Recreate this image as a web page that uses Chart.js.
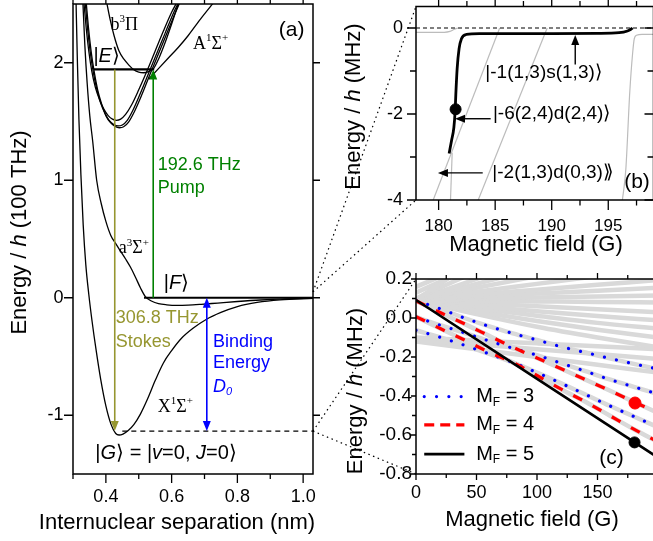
<!DOCTYPE html>
<html><head><meta charset="utf-8"><title>Potential curves and Zeeman map</title>
<script src="https://cdn.jsdelivr.net/npm/chart.js@4/dist/chart.umd.min.js"></script>
<style>
html,body{margin:0;padding:0;background:#fff;overflow:hidden;}
body{position:relative;width:653px;height:541px;}
canvas{position:absolute;display:block;}
</style></head><body>
<canvas id="ca" width="320" height="541" style="left:0px;top:0px;width:320px;height:541px"></canvas>
<canvas id="cb" width="340" height="260" style="left:320px;top:0px;width:340px;height:260px"></canvas>
<canvas id="cc" width="345" height="281" style="left:320px;top:260px;width:345px;height:281px"></canvas>
<canvas id="ov" width="653" height="541" style="left:0px;top:0px;width:653px;height:541px;pointer-events:none"></canvas>
<script>
const FONT = '"Liberation Sans", Arial, Helvetica, sans-serif';
const SERIF = '"Liberation Serif", "Times New Roman", serif';
const GREEN = '#008000', OLIVE = '#969630', BLUE = '#0000ff', RED = '#ff0000', GRAY = '#d9d9d9', LGRAY = '#bcbcbc';

// ================= Panel (a): potential curves =================
const aXRange = [0.3, 1.03];
const aYRange = [-1.5, 2.5];
const aXTicks = [0.4, 0.6, 0.8, 1.0];
const aXMinor = [0.3, 0.5, 0.7, 0.9];
const aYTicks = [-1, 0, 1, 2];

const xSigR = [0.309,0.313,0.318,0.324,0.331,0.339,0.348,0.358,0.37,0.384,0.4,0.416,0.43,0.44,0.452,0.468,0.485,0.505,0.527,0.55,0.575,0.6,0.63,0.665,0.705,0.75,0.8,0.86,0.93,1.03];
const xSigE = [2.55,2.05,1.52,1.05,0.62,0.28,0.03,-0.2,-0.44,-0.69,-0.92,-1.08,-1.155,-1.168,-1.16,-1.13,-1.08,-0.99,-0.86,-0.705,-0.555,-0.45,-0.345,-0.26,-0.185,-0.125,-0.075,-0.04,-0.018,-0.005];

const a3SigR = [0.33,0.336,0.343,0.351,0.36,0.372,0.386,0.4,0.415,0.43,0.445,0.46,0.475,0.49,0.505,0.52,0.54,0.56,0.585,0.615,0.65,0.69,0.74,0.8,0.87,0.95,1.03];
const a3SigE = [2.52,2.15,1.83,1.55,1.33,1.0,0.8,0.65,0.53,0.46,0.395,0.33,0.26,0.175,0.085,0.01,-0.03,-0.05,-0.06,-0.065,-0.063,-0.056,-0.045,-0.032,-0.019,-0.009,-0.003];

const exc1R = [0.333,0.34,0.348,0.357,0.368,0.38,0.393,0.407,0.42,0.432,0.445,0.46,0.478,0.5,0.525,0.55,0.575,0.6,0.617];
const exc1E = [2.52,2.3,2.1,1.93,1.79,1.69,1.61,1.55,1.52,1.51,1.52,1.56,1.64,1.77,1.93,2.1,2.27,2.43,2.52];
const exc2R = [0.337,0.344,0.352,0.361,0.372,0.384,0.397,0.41,0.424,0.437,0.45,0.465,0.483,0.505,0.53,0.555,0.58,0.605,0.622];
const exc2E = [2.52,2.3,2.1,1.93,1.78,1.66,1.57,1.51,1.475,1.462,1.47,1.51,1.6,1.74,1.91,2.08,2.25,2.42,2.52];
const exc3R = [0.34,0.347,0.355,0.364,0.375,0.387,0.4,0.414,0.428,0.441,0.454,0.469,0.487,0.509,0.534,0.559,0.584,0.609,0.626];
const exc3E = [2.52,2.3,2.1,1.93,1.77,1.65,1.55,1.49,1.458,1.447,1.455,1.495,1.585,1.725,1.9,2.07,2.24,2.41,2.52];

const b3PiR = [0.402,0.412,0.425,0.44,0.455,0.47,0.485,0.5,0.515,0.53,0.545,0.56,0.58,0.6,0.62];
const b3PiE = [2.52,2.38,2.23,2.1,2.03,1.98,1.94,1.92,1.915,1.925,1.95,2.03,2.17,2.33,2.5];

const A1SigR = [0.53,0.56,0.59,0.62,0.65,0.69,0.73];
const A1SigE = [1.86,1.95,2.04,2.13,2.23,2.38,2.52];

const levelE = 1.943, levelER = [0.363, 0.547];
const levelF = 0, levelFR = [0.516, 1.03];
const levelG = -1.135, levelGR = [0.45, 1.03];
const pumpX = 0.544, stokesX = 0.427, bindX = 0.707;

// ================= Panel (b) =================
const bXRange = [178, 199];
const bYRange = [-4, 0.5];
const bXTicks = [180, 185, 190, 195];
const bXMinor = [182.5, 187.5, 192.5, 197.5];
const bYTicks = [0, -2, -4];
const bYMinor = [-1, -3];
const bStateB = [180.93,181.14,181.35,181.46,181.52,181.64,181.81,182.02,182.46,183.6,186,190,194,195.96,196.7,197.0,197.15];
const bStateE = [-2.92,-2.62,-2.31,-1.93,-1.55,-0.94,-0.48,-0.25,-0.15,-0.13,-0.13,-0.13,-0.125,-0.11,-0.07,-0.03,0.0];
const bGrayAB = [178, 180.5, 181.0, 181.4, 181.7], bGrayAE = [-0.1, -0.1, -0.08, -0.03, 0];
const bGrayBB = [179.52, 185.4], bGrayBE = [-4, 0];
const bGrayCB = [183.5, 189.6], bGrayCE = [-4, 0];
const bGrayDB = [181.05, 181.2], bGrayDE = [-4, -2.9];
const bGrayEB = [196.25,196.55,196.9,197.15,197.3,197.5,198,199], bGrayEE = [-4,-3.3,-1.5,-0.6,-0.25,-0.17,-0.15,-0.15];
const bThreshold = 0;
const bDot = {x: 181.5, y: -1.89};

// ================= Panel (c) =================
const cXRange = [0, 200];
const cYRange = [-0.8, 0.2];
const cXTicks = [0, 50, 100, 150];
const cXMinor = [25, 75, 125, 175];
const cYTicks = [0.2, 0, -0.2, -0.4, -0.6, -0.8];
const cYMinor = [0.1, -0.1, -0.3, -0.5, -0.7];
const cField = [0, 20, 40, 60, 80, 100, 120, 140, 160, 180, 200];
const mf3a = [0.09, 0.047, 0.0, -0.042, -0.079, -0.113, -0.147, -0.177, -0.207, -0.235, -0.262];
const mf3b = [0.005, -0.037, -0.076, -0.117, -0.155, -0.191, -0.232, -0.273, -0.315, -0.353, -0.39];
const mf3c = [-0.063, -0.099, -0.14, -0.183, -0.228, -0.28, -0.335, -0.392, -0.45, -0.505, -0.56];
const mf4a = [0.088, 0.028, -0.03, -0.09, -0.15, -0.205, -0.26, -0.316, -0.372, -0.43, -0.487];
const mf4b = [0.007, -0.054, -0.113, -0.174, -0.228, -0.295, -0.365, -0.43, -0.5, -0.57, -0.635];
const mf5Field = [0, 95, 200];
const mf5 = [0.092, -0.292, -0.716];
const grayField = [0, 50, 100, 150, 200];
const grayLines = [
  [0.092, 0.30, 0.50, 0.70, 0.90],
  [0.10, 0.24, 0.38, 0.52, 0.66],
  [0.13, 0.27, 0.41, 0.55, 0.69],
  [0.16, 0.29, 0.42, 0.55, 0.68],
  [0.092, 0.20, 0.31, 0.42, 0.53],
  [0.092, 0.175, 0.255, 0.335, 0.415],
  [0.092, 0.155, 0.215, 0.27, 0.33],
  [0.092, 0.135, 0.175, 0.215, 0.25],
  [0.092, 0.12, 0.145, 0.17, 0.195],
  [0.092, 0.11, 0.125, 0.14, 0.155],
  [0.092, 0.10, 0.105, 0.11, 0.115],
  [0.092, 0.088, 0.085, 0.082, 0.08],
  [0.092, 0.075, 0.06, 0.045, 0.03],
  [0.092, 0.062, 0.035, 0.01, -0.012],
  [0.092, 0.05, 0.012, -0.025, -0.055],
  [0.092, 0.035, -0.015, -0.06, -0.1],
  [0.092, 0.02, -0.045, -0.1, -0.15],
  [-0.1, -0.115, -0.13, -0.145, -0.16],
  [-0.11, -0.135, -0.16, -0.185, -0.21],
  [-0.12, -0.16, -0.2, -0.24, -0.28]
];
const dotMF5 = {x: 180.6, y: -0.638};
const dotMF4 = {x: 181, y: -0.436};

// ================= helpers =================
Chart.defaults.font.family = FONT;
Chart.defaults.color = '#000';

function pts(xs, ys) { return xs.map((x, i) => ({x: x, y: ys[i]})); }
function hpts(xs, y) { return xs.map(x => ({x: x, y: y})); }
function lineDS(data, color, width, extra) {
  return Object.assign({data: data, borderColor: color, backgroundColor: color, borderWidth: width,
    pointRadius: 0, pointHoverRadius: 0, fill: false, tension: 0, showLine: true, order: 5}, extra || {});
}
function linScale(o) {
  return {
    type: 'linear', min: o.min, max: o.max,
    afterBuildTicks: s => { s.ticks = o.ticks.map(v => ({value: v})); },
    afterFit: s => {
      if (o.width != null) s.width = o.width;
      if (o.height != null) s.height = o.height;
      s.paddingTop = 0; s.paddingBottom = 0; s.paddingLeft = 0; s.paddingRight = 0;
    },
    ticks: {callback: v => o.fmt(v), font: {size: o.size, family: FONT}, color: '#000', padding: o.pad,
      maxRotation: 0, minRotation: 0, autoSkip: false},
    grid: {display: false, drawTicks: false},
    border: {display: false},
    title: {display: false}
  };
}
function rich(ctx, x, y, parts, o) {
  const size = o.size || 18, fam = o.family || FONT, col = o.color || '#000';
  const items = parts.map(p => {
    const st = p[1] || '';
    const small = st.indexOf('^') >= 0 || st.indexOf('_') >= 0;
    const fs = small ? Math.round(size * 0.62) : size;
    const f = (st.indexOf('i') >= 0 ? 'italic ' : '') + fs + 'px ' + fam;
    ctx.font = f;
    const dy = st.indexOf('^') >= 0 ? -size * 0.34 : (st.indexOf('_') >= 0 ? size * 0.3 : 0);
    return {t: p[0], f: f, w: ctx.measureText(p[0]).width, dy: dy};
  });
  const W = items.reduce((s, it) => s + it.w, 0);
  let cx = o.align === 'center' ? x - W / 2 : (o.align === 'right' ? x - W : x);
  ctx.save();
  ctx.fillStyle = col; ctx.textAlign = 'left'; ctx.textBaseline = 'middle';
  for (const it of items) { ctx.font = it.f; ctx.fillText(it.t, cx, y + it.dy); cx += it.w; }
  ctx.restore();
  return W;
}
function richRot(ctx, x, y, parts, o) {
  ctx.save(); ctx.translate(x, y); ctx.rotate(-Math.PI / 2);
  rich(ctx, 0, 0, parts, Object.assign({align: 'center'}, o));
  ctx.restore();
}
function arrowPx(ctx, x1, y1, x2, y2, color, lw, startHead, endHead, hl, hw) {
  const ang = Math.atan2(y2 - y1, x2 - x1);
  let sx1 = x1, sy1 = y1, sx2 = x2, sy2 = y2;
  if (startHead) { sx1 += Math.cos(ang) * hl * 0.8; sy1 += Math.sin(ang) * hl * 0.8; }
  if (endHead) { sx2 -= Math.cos(ang) * hl * 0.8; sy2 -= Math.sin(ang) * hl * 0.8; }
  ctx.save(); ctx.strokeStyle = color; ctx.fillStyle = color; ctx.lineWidth = lw; ctx.setLineDash([]);
  ctx.beginPath(); ctx.moveTo(sx1, sy1); ctx.lineTo(sx2, sy2); ctx.stroke();
  const head = (x, y, a) => {
    ctx.beginPath(); ctx.moveTo(x, y);
    ctx.lineTo(x - hl * Math.cos(a) + hw * Math.sin(a), y - hl * Math.sin(a) - hw * Math.cos(a));
    ctx.lineTo(x - hl * Math.cos(a) - hw * Math.sin(a), y - hl * Math.sin(a) + hw * Math.cos(a));
    ctx.closePath(); ctx.fill();
  };
  if (endHead) head(x2, y2, ang);
  if (startHead) head(x1, y1, ang + Math.PI);
  ctx.restore();
}
function framePlugin(id, cfg, extra) {
  return {
    id: id,
    afterDraw(chart) {
      const ctx = chart.ctx, a = chart.chartArea, sx = chart.scales.x, sy = chart.scales.y;
      ctx.save();
      ctx.strokeStyle = '#000'; ctx.lineWidth = 1.5; ctx.setLineDash([]);
      ctx.strokeRect(a.left, a.top, a.right - a.left, a.bottom - a.top);
      ctx.lineWidth = 1.3;
      ctx.beginPath();
      [[cfg.xMajor, cfg.xMaj], [cfg.xMinor, cfg.xMin]].forEach(([vals, len]) => {
        vals.forEach(v => {
          const p = sx.getPixelForValue(v);
          ctx.moveTo(p, a.bottom); ctx.lineTo(p, a.bottom + len);
          ctx.moveTo(p, a.top); ctx.lineTo(p, a.top - len);
        });
      });
      [[cfg.yMajor, cfg.yMaj], [cfg.yMinor, cfg.yMin]].forEach(([vals, len]) => {
        vals.forEach(v => {
          const p = sy.getPixelForValue(v);
          ctx.moveTo(a.left, p); ctx.lineTo(a.left - len, p);
          const d = cfg.rightIn ? -len : len;
          ctx.moveTo(a.right, p); ctx.lineTo(a.right + d, p);
        });
      });
      ctx.stroke();
      ctx.restore();
      if (extra) extra(chart, ctx, sx, sy);
    }
  };
}
function baseOptions(padding, xs, ys) {
  return {
    responsive: false, animation: false, devicePixelRatio: 1, events: [],
    layout: {padding: padding},
    plugins: {legend: {display: false}, tooltip: {enabled: false}},
    scales: {x: xs, y: ys}
  };
}

// ================= Chart (a) =================
const chartA = new Chart(document.getElementById('ca'), {
  type: 'line',
  data: {datasets: [
    lineDS(pts(xSigR, xSigE), '#000', 1.3, {cubicInterpolationMode: 'monotone'}),
    lineDS(pts(a3SigR, a3SigE), '#000', 1.3, {cubicInterpolationMode: 'monotone'}),
    lineDS(pts(exc1R, exc1E), '#000', 1.3, {cubicInterpolationMode: 'monotone'}),
    lineDS(pts(exc2R, exc2E), '#000', 1.3, {cubicInterpolationMode: 'monotone'}),
    lineDS(pts(exc3R, exc3E), '#000', 1.3, {cubicInterpolationMode: 'monotone'}),
    lineDS(pts(b3PiR, b3PiE), '#000', 1.3, {cubicInterpolationMode: 'monotone'}),
    lineDS(pts(A1SigR, A1SigE), '#000', 1.3, {cubicInterpolationMode: 'monotone'}),
    lineDS(hpts(levelER, levelE), '#000', 2.2, {order: 1}),
    lineDS(hpts(levelFR, levelF), '#000', 1.8, {order: 1}),
    lineDS(hpts(levelGR, levelG), '#000', 1.2, {order: 1, borderDash: [5, 4]})
  ]},
  options: baseOptions({left: 0, top: 4, right: 7, bottom: 0},
    linScale({min: aXRange[0], max: aXRange[1], ticks: aXTicks, fmt: v => v.toFixed(1), size: 18, pad: 12, height: 67}),
    linScale({min: aYRange[0], max: aYRange[1], ticks: aYTicks, fmt: v => String(v), size: 18, pad: 9.5, width: 73})),
  plugins: [framePlugin('frameA', {xMajor: aXTicks, xMaj: 9, xMinor: aXMinor, xMin: 5, yMajor: aYTicks, yMaj: 9, yMinor: [], yMin: 5},
    (chart, ctx, sx, sy) => {
      const X = v => sx.getPixelForValue(v), Y = v => sy.getPixelForValue(v);
      arrowPx(ctx, X(pumpX), Y(levelF), X(pumpX), Y(levelE), GREEN, 1.6, false, true, 10, 4);
      arrowPx(ctx, X(stokesX), Y(levelE), X(stokesX), Y(levelG), OLIVE, 1.6, false, true, 10, 4);
      arrowPx(ctx, X(bindX), Y(levelF), X(bindX), Y(levelG), BLUE, 1.6, true, true, 10, 4);
      const T = (x, y, parts, o) => rich(ctx, X(x), Y(y), parts, o);
      T(0.362, 2.05, [['|'], ['E', 'i'], ['\u27e9']], {size: 20});
      T(0.576, 0.12, [['|'], ['F', 'i'], ['\u27e9']], {size: 20});
      T(0.368, -1.325, [['|'], ['G', 'i'], ['\u27e9 = |'], ['v', 'i'], ['=0, '], ['J', 'i'], ['=0\u27e9']], {size: 20});
      T(0.558, 1.13, [['192.6 THz']], {size: 18, color: GREEN});
      T(0.558, 0.93, [['Pump']], {size: 18, color: GREEN});
      T(0.43, -0.176, [['306.8 THz']], {size: 18, color: OLIVE});
      T(0.43, -0.374, [['Stokes']], {size: 18, color: OLIVE});
      T(0.7255, -0.374, [['Binding']], {size: 18, color: BLUE});
      T(0.7255, -0.559, [['Energy']], {size: 18, color: BLUE});
      T(0.7255, -0.757, [['D', 'i'], ['0', 'i_']], {size: 18, color: BLUE});
      T(0.414, 2.32, [['b'], ['3', '^'], ['\u03a0']], {size: 18, family: SERIF});
      T(0.665, 2.16, [['A'], ['1', '^'], ['\u03a3'], ['+', '^']], {size: 18, family: SERIF});
      T(0.439, 0.417, [['a'], ['3', '^'], ['\u03a3'], ['+', '^']], {size: 18, family: SERIF});
      T(0.558, -0.928, [['X'], ['1', '^'], ['\u03a3'], ['+', '^']], {size: 18, family: SERIF});
      rich(ctx, X(0.965), Y(2.28), [['(a)']], {size: 21, align: 'center'});
      richRot(ctx, 20, 232.5, [['Energy / '], ['h', 'i'], [' (100 THz)']], {size: 22});
      rich(ctx, 177, 523, [['Internuclear separation (nm)']], {size: 22, align: 'center'});
    })]
});

// ================= Chart (b) =================
const chartB = new Chart(document.getElementById('cb'), {
  type: 'line',
  data: {datasets: [
    {type: 'scatter', data: [bDot], pointRadius: 5.5, backgroundColor: '#000', borderColor: '#000', order: 0},
    lineDS(pts(bStateB, bStateE), '#000', 2.8, {order: 1, cubicInterpolationMode: 'monotone'}),
    lineDS(hpts(bXRange, bThreshold), '#000', 1.2, {order: 2, borderDash: [4, 3]}),
    lineDS(pts(bGrayAB, bGrayAE), LGRAY, 1.2, {cubicInterpolationMode: 'monotone'}),
    lineDS(pts(bGrayBB, bGrayBE), LGRAY, 1.2),
    lineDS(pts(bGrayCB, bGrayCE), LGRAY, 1.2),
    lineDS(pts(bGrayDB, bGrayDE), LGRAY, 1.2),
    lineDS(pts(bGrayEB, bGrayEE), LGRAY, 1.2, {cubicInterpolationMode: 'monotone'})
  ]},
  options: baseOptions({left: 0, top: 4, right: 5.4, bottom: 0},
    linScale({min: bXRange[0], max: bXRange[1], ticks: bXTicks, fmt: v => String(v), size: 17, pad: 16, height: 60}),
    linScale({min: bYRange[0], max: bYRange[1], ticks: bYTicks, fmt: v => String(v), size: 18, pad: 13, width: 96})),
  plugins: [framePlugin('frameB', {xMajor: bXTicks, xMaj: 10, xMinor: bXMinor, xMin: 5.5, yMajor: bYTicks, yMaj: 9, yMinor: bYMinor, yMin: 6, rightIn: true},
    (chart, ctx, sx, sy) => {
      const X = v => sx.getPixelForValue(v), Y = v => sy.getPixelForValue(v);
      arrowPx(ctx, X(192.08), Y(-0.85), X(192.08), Y(-0.16), '#000', 1.4, false, true, 10, 4);
      arrowPx(ctx, X(184.6), Y(-2.11), X(181.45), Y(-2.11), '#000', 1.4, false, true, 10, 4);
      arrowPx(ctx, X(183.9), Y(-3.37), X(179.94), Y(-3.37), '#000', 1.4, false, true, 10, 4);
      rich(ctx, X(184.13), Y(-1.03), [['|-1(1,3)s(1,3)\u27e9']], {size: 19});
      rich(ctx, X(184.8), Y(-2.0), [['|-6(2,4)d(2,4)\u27e9']], {size: 19});
      rich(ctx, X(184.75), Y(-3.37), [['|-2(1,3)d(0,3)\u27eb']], {size: 19});
      rich(ctx, X(197.54), Y(-3.58), [['(b)']], {size: 21, align: 'center'});
      richRot(ctx, 34, 106.5, [['Energy / '], ['h', 'i'], [' (MHz)']], {size: 22});
      rich(ctx, 216, 245, [['Magnetic field (G)']], {size: 22, align: 'center'});
    })]
});

// ================= Chart (c) =================
const dsMF3 = {borderDash: [0.01, 12.3], borderCapStyle: 'round', order: 2, cubicInterpolationMode: 'monotone'};
const dsMF4 = {borderDash: [10, 12], order: 2, cubicInterpolationMode: 'monotone'};
const cDatasets = [
  {type: 'scatter', data: [dotMF5], pointRadius: 5.5, backgroundColor: '#000', borderColor: '#000', order: 0},
  {type: 'scatter', data: [dotMF4], pointRadius: 6, backgroundColor: RED, borderColor: RED, order: 0},
  lineDS(pts(mf5Field, mf5), '#000', 2.6, {order: 1}),
  lineDS(pts(cField, mf4a), RED, 3.3, dsMF4),
  lineDS(pts(cField, mf4b), RED, 3.3, dsMF4),
  lineDS(pts(cField, mf3a), BLUE, 3.2, dsMF3),
  lineDS(pts(cField, mf3b), BLUE, 3.2, dsMF3),
  lineDS(pts(cField, mf3c), BLUE, 3.2, dsMF3)
];
[mf4a, mf4b, mf3a, mf3b, mf3c].forEach(s => cDatasets.push(lineDS(pts(cField, s), GRAY, 4.5, {order: 9, cubicInterpolationMode: 'monotone'})));
grayLines.forEach(s => cDatasets.push(lineDS(pts(grayField, s), GRAY, 4.5, {order: 10, cubicInterpolationMode: 'monotone'})));

const cLegend = [
  {parts: [['M'], ['F', '_'], [' = 3']], color: BLUE, width: 3.2, dash: [0.01, 12.3], cap: 'round', y: -0.403},
  {parts: [['M'], ['F', '_'], [' = 4']], color: RED, width: 3.3, dash: [10, 6], cap: 'butt', y: -0.548},
  {parts: [['M'], ['F', '_'], [' = 5']], color: '#000', width: 2.6, dash: [], cap: 'butt', y: -0.698}
];

const chartC = new Chart(document.getElementById('cc'), {
  type: 'line',
  data: {datasets: cDatasets},
  options: baseOptions({left: 0, top: 19, right: 4.6, bottom: 0},
    linScale({min: cXRange[0], max: cXRange[1], ticks: cXTicks, fmt: v => String(v), size: 18, pad: 8.5, height: 67}),
    linScale({min: cYRange[0], max: cYRange[1], ticks: cYTicks, fmt: v => v.toFixed(1), size: 19, pad: 4, width: 96})),
  plugins: [framePlugin('frameC', {xMajor: cXTicks, xMaj: 6, xMinor: cXMinor, xMin: 4, yMajor: cYTicks, yMaj: 5, yMinor: cYMinor, yMin: 4},
    (chart, ctx, sx, sy) => {
      const X = v => sx.getPixelForValue(v), Y = v => sy.getPixelForValue(v);
      cLegend.forEach(it => {
        ctx.save();
        ctx.strokeStyle = it.color; ctx.lineWidth = it.width; ctx.lineCap = it.cap; ctx.setLineDash(it.dash);
        ctx.beginPath(); ctx.moveTo(X(6.8), Y(it.y)); ctx.lineTo(X(40), Y(it.y)); ctx.stroke();
        ctx.restore();
        rich(ctx, X(49.7), Y(it.y), it.parts, {size: 20});
      });
      rich(ctx, X(161.5), Y(-0.718), [['(c)']], {size: 21, align: 'center'});
      richRot(ctx, 36, 131, [['Energy / '], ['h', 'i'], [' (MHz)']], {size: 22});
      rich(ctx, 212, 260, [['Magnetic field (G)']], {size: 22, align: 'center'});
    })]
});

// ================= zoom connectors =================
const connFromA = [[aXRange[1], 0.05], [aXRange[1], levelG]];
(function drawConnectors() {
  const ctx = document.getElementById('ov').getContext('2d');
  const page = (chart, el, xv, yv) => {
    const r = el.getBoundingClientRect();
    return [r.left + chart.scales.x.getPixelForValue(xv), r.top + chart.scales.y.getPixelForValue(yv)];
  };
  const ca = document.getElementById('ca'), cb = document.getElementById('cb'), cc = document.getElementById('cc');
  const fromB = page(chartA, ca, connFromA[0][0], connFromA[0][1]);
  const fromC = page(chartA, ca, connFromA[1][0], connFromA[1][1]);
  const targets = [
    [fromB, page(chartB, cb, bXRange[0], bYRange[1])],
    [fromB, page(chartB, cb, bXRange[0], bYRange[0])],
    [fromC, page(chartC, cc, cXRange[0], cYRange[1])],
    [fromC, page(chartC, cc, cXRange[0], cYRange[0])]
  ];
  ctx.save();
  ctx.strokeStyle = '#000'; ctx.lineWidth = 1.2; ctx.setLineDash([1.5, 3.5]);
  targets.forEach(([p, q]) => { ctx.beginPath(); ctx.moveTo(p[0], p[1]); ctx.lineTo(q[0], q[1]); ctx.stroke(); });
  ctx.restore();
})();
</script></body></html>
